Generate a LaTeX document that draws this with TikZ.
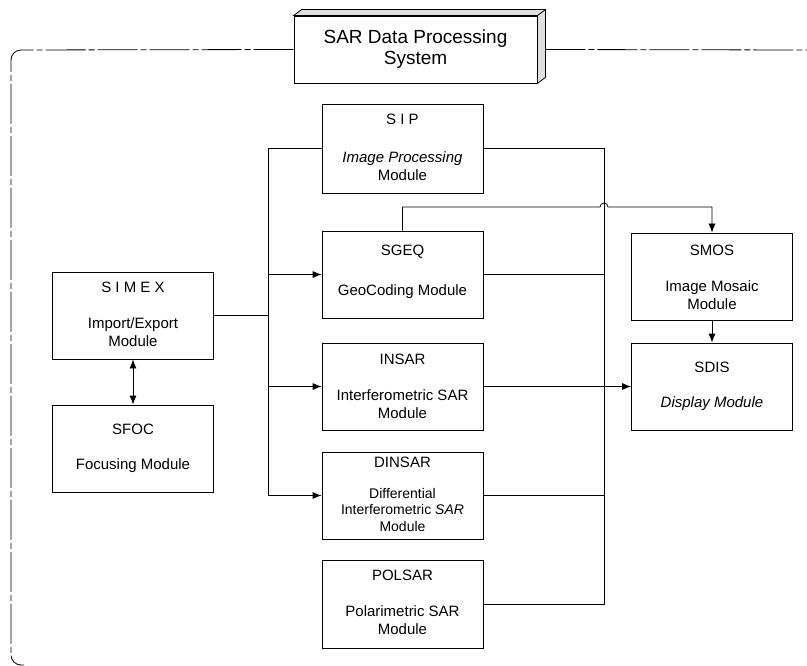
\documentclass[tikz,border=0pt]{standalone}
\usepackage{fontspec}
\setmainfont{Liberation Sans}
\usetikzlibrary{calc,arrows.meta}

\tikzset{
  module/.style={draw, line width=0.8pt, minimum width=161pt, minimum height=87pt, inner sep=0pt},
  head/.style={font=\fontsize{15}{18}\selectfont, inner sep=0pt},
  desc/.style={font=\fontsize{15}{18}\selectfont, inner sep=0pt, align=center},
  title/.style={draw, line width=0.8pt, minimum width=243pt, minimum height=67pt, align=center,
    font=\fontsize{19}{21}\selectfont},
  wire/.style={line width=0.8pt},
  frame/.style={line width=0.8pt, dash pattern=on 40pt off 3pt on 6pt off 3pt, rounded corners=10pt},
}

\begin{document}
\begin{tikzpicture}[x=1pt,y=-1pt,>={Latex[length=9pt,width=7pt]}]
  \useasboundingbox (0,0) rectangle (807,666);

  % system box
  \node[title] (sys) at (415.5,49.5) {SAR Data Processing\\System};
  \draw[wire, fill=gray!25] (sys.north west) -- ++(8pt,6pt) -- ([shift={(8pt,6pt)}]sys.north east)
    -- ([shift={(8pt,6pt)}]sys.south east) -- (sys.south east) -- (sys.north east) -- cycle;
  \draw[wire] (sys.north east) -- ++(8pt,6pt);
  \draw[frame] (sys.west) -- (11,50) -- (11,665) -- (24,665);
  \draw[frame] ($(sys.east)+(8,0)$) -- (807,50);

  % modules
  \node[module, minimum height=89pt] (sip) at (402.5,148.5) {};
  \node[module] (sgeq)   at (402.5,274.5) {};
  \node[module] (insar)  at (402.5,386.5) {};
  \node[module] (dinsar) at (402.5,495.5) {};
  \node[module, minimum height=88pt] (polsar) at (402.5,604) {};
  \node[module] (simex)  at (133,315.5) {};
  \node[module] (sfoc)   at (133,448.5) {};
  \node[module] (smos)   at (712,276.5) {};
  \node[module] (sdis)   at (712,386.5) {};

  % labels
  \node[head] (siph) at ($(sip.north)+(0,16)$) {S I P};
  \node[desc] (sipd) at ($(sip.north)+(0,63)$) {\itshape Image Processing\\Module};
  \node[head] (sgeqh) at ($(sgeq.north)+(0,21)$) {SGEQ};
  \node[desc] (sgeqd) at ($(sgeq.north)+(0,61)$) {GeoCoding Module};
  \node[head] (insarh) at ($(insar.north)+(0,17)$) {INSAR};
  \node[desc] (insard) at ($(insar.north)+(0,62)$) {Interferometric SAR\\Module};
  \node[head] (dinsarh) at ($(dinsar.north)+(0,11)$) {DINSAR};
  \node[desc, font=\fontsize{14}{16.5}\selectfont] (dinsard) at ($(dinsar.north)+(0,58)$)
    {Differential\\Interferometric \textit{SAR}\\Module};
  \node[head] (polsarh) at ($(polsar.north)+(0,16)$) {POLSAR};
  \node[desc] (polsard) at ($(polsar.north)+(0,61)$) {Polarimetric SAR\\Module};
  \node[head] (simexh) at ($(simex.north)+(0,16)$) {S I M E X};
  \node[desc] (simexd) at ($(simex.north)+(0,60.5)$) {Import/Export\\Module};
  \node[head] (sfoch) at ($(sfoc.north)+(0,25)$) {SFOC};
  \node[desc] (sfocd) at ($(sfoc.north)+(0,61)$) {Focusing Module};
  \node[head] (smosh) at ($(smos.north)+(0,18)$) {SMOS};
  \node[desc] (smosd) at ($(smos.north)+(0,62.5)$) {Image Mosaic\\Module};
  \node[head] (sdish) at ($(sdis.north)+(0,25)$) {SDIS};
  \node[desc] (sdisd) at ($(sdis.north)+(0,61)$) {\itshape Display Module};

  % buses
  \coordinate (busL) at (268,0);
  \coordinate (busR) at (604,0);
  \coordinate (hop) at (604,207);

  \draw[wire] (simex.east) -- (simex.east -| busL);
  \draw[wire] (sip.west) -- (sip.west -| busL) -- (dinsar.west -| busL);
  \draw[wire,->] (sgeq.west -| busL) -- (sgeq.west);
  \draw[wire,->] (insar.west -| busL) -- (insar.west);
  \draw[wire,->] (dinsar.west -| busL) -- (dinsar.west);

  \draw[wire] (sip.east) -- (sip.east -| busR) -- (polsar.east -| busR) -- (polsar.east);
  \draw[wire] (sgeq.east) -- (sgeq.east -| busR);
  \draw[wire] (dinsar.east) -- (dinsar.east -| busR);
  \draw[wire,->] (insar.east) -- (sdis.west);

  \draw[wire,->] (sgeq.north) -- (sgeq.north |- hop) -- ($(hop)+(-4,0)$)
    arc[start angle=180, end angle=0, radius=4pt] -- (hop -| smos.north) -- (smos.north);
  \draw[wire,->] (smos) -- (sdis);
  \draw[wire,<->] (simex) -- (sfoc);
\end{tikzpicture}
\end{document}
